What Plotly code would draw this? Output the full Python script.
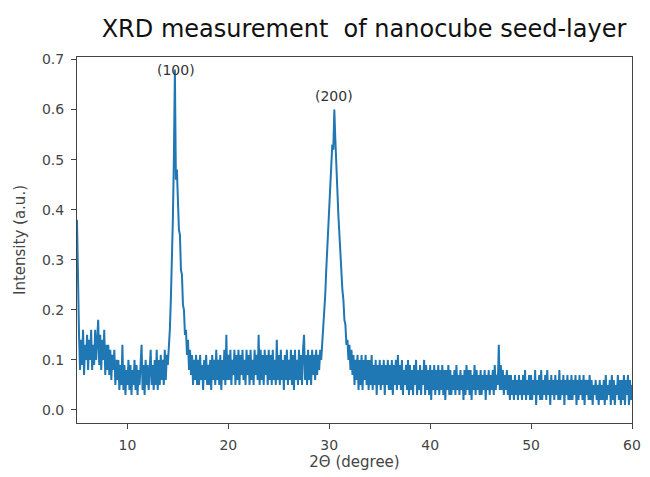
import numpy as np
import plotly.graph_objects as go

# 2-theta grid (degrees), 0.1 deg step from 5 to 60
two_theta = np.round(np.arange(5.0, 60.0001, 0.1), 1)

# Intensity values (a.u.), one row per degree
intensity = [
    0.38, 0.24, 0.15, 0.08, 0.14, 0.09, 0.16, 0.07, 0.13, 0.10,   # 5
    0.15, 0.08, 0.14, 0.10, 0.16, 0.08, 0.13, 0.09, 0.16, 0.10,   # 6
    0.14, 0.18, 0.09, 0.15, 0.08, 0.14, 0.10, 0.16, 0.07, 0.13,   # 7
    0.08, 0.13, 0.07, 0.12, 0.06, 0.11, 0.08, 0.12, 0.05, 0.10,   # 8
    0.06, 0.10, 0.04, 0.09, 0.05, 0.13, 0.04, 0.09, 0.03, 0.08,   # 9
    0.05, 0.10, 0.04, 0.09, 0.03, 0.08, 0.05, 0.10, 0.04, 0.09,   # 10
    0.03, 0.08, 0.05, 0.10, 0.13, 0.04, 0.09, 0.03, 0.10, 0.05,   # 11
    0.09, 0.04, 0.10, 0.12, 0.05, 0.09, 0.04, 0.10, 0.05, 0.12,   # 12
    0.04, 0.10, 0.05, 0.11, 0.06, 0.10, 0.05, 0.12, 0.06, 0.11,   # 13
    0.09, 0.12, 0.16, 0.22, 0.29, 0.38, 0.50, 0.68, 0.46, 0.48,   # 14
    0.42, 0.36, 0.35, 0.28, 0.27, 0.21, 0.20, 0.15, 0.16, 0.11,   # 15
    0.14, 0.08, 0.12, 0.07, 0.11, 0.05, 0.10, 0.06, 0.11, 0.05,   # 16
    0.10, 0.05, 0.11, 0.06, 0.09, 0.04, 0.10, 0.06, 0.11, 0.05,   # 17
    0.09, 0.05, 0.10, 0.04, 0.11, 0.06, 0.10, 0.05, 0.12, 0.06,   # 18
    0.10, 0.05, 0.11, 0.04, 0.10, 0.06, 0.12, 0.05, 0.15, 0.06,   # 19
    0.11, 0.06, 0.12, 0.05, 0.10, 0.07, 0.12, 0.05, 0.11, 0.06,   # 20
    0.12, 0.05, 0.11, 0.07, 0.12, 0.06, 0.10, 0.05, 0.12, 0.07,   # 21
    0.11, 0.05, 0.12, 0.06, 0.10, 0.05, 0.12, 0.07, 0.11, 0.06,   # 22
    0.15, 0.05, 0.12, 0.06, 0.11, 0.05, 0.12, 0.07, 0.11, 0.05,   # 23
    0.12, 0.06, 0.11, 0.05, 0.12, 0.06, 0.10, 0.05, 0.14, 0.06,   # 24
    0.11, 0.05, 0.12, 0.06, 0.10, 0.04, 0.11, 0.06, 0.12, 0.05,   # 25
    0.10, 0.06, 0.12, 0.05, 0.11, 0.04, 0.12, 0.06, 0.10, 0.05,   # 26
    0.12, 0.06, 0.11, 0.05, 0.12, 0.15, 0.06, 0.11, 0.05, 0.12,   # 27
    0.06, 0.11, 0.05, 0.12, 0.07, 0.11, 0.06, 0.12, 0.07, 0.11,   # 28
    0.08, 0.12, 0.10, 0.13, 0.16, 0.19, 0.23, 0.28, 0.32, 0.37,   # 29
    0.40, 0.45, 0.50, 0.53, 0.52, 0.60, 0.54, 0.47, 0.44, 0.39,   # 30
    0.35, 0.32, 0.28, 0.24, 0.22, 0.18, 0.17, 0.13, 0.14, 0.10,   # 31
    0.13, 0.08, 0.12, 0.07, 0.11, 0.05, 0.10, 0.06, 0.11, 0.04,   # 32
    0.10, 0.05, 0.11, 0.04, 0.10, 0.06, 0.11, 0.05, 0.10, 0.04,   # 33
    0.10, 0.05, 0.11, 0.04, 0.09, 0.05, 0.10, 0.03, 0.09, 0.05,   # 34
    0.10, 0.04, 0.09, 0.05, 0.10, 0.03, 0.09, 0.05, 0.10, 0.04,   # 35
    0.09, 0.04, 0.10, 0.03, 0.09, 0.05, 0.10, 0.04, 0.11, 0.05,   # 36
    0.09, 0.04, 0.10, 0.03, 0.08, 0.05, 0.09, 0.04, 0.10, 0.03,   # 37
    0.09, 0.04, 0.08, 0.03, 0.09, 0.05, 0.10, 0.03, 0.08, 0.04,   # 38
    0.09, 0.03, 0.08, 0.05, 0.10, 0.03, 0.09, 0.04, 0.08, 0.03,   # 39
    0.09, 0.02, 0.08, 0.04, 0.09, 0.03, 0.08, 0.04, 0.09, 0.03,   # 40
    0.08, 0.04, 0.09, 0.03, 0.08, 0.02, 0.08, 0.04, 0.09, 0.03,   # 41
    0.08, 0.03, 0.07, 0.04, 0.08, 0.03, 0.09, 0.04, 0.07, 0.03,   # 42
    0.08, 0.04, 0.07, 0.02, 0.08, 0.03, 0.09, 0.04, 0.08, 0.03,   # 43
    0.08, 0.02, 0.07, 0.04, 0.09, 0.03, 0.08, 0.04, 0.07, 0.03,   # 44
    0.08, 0.03, 0.07, 0.04, 0.08, 0.02, 0.07, 0.04, 0.08, 0.03,   # 45
    0.07, 0.04, 0.08, 0.03, 0.09, 0.04, 0.07, 0.05, 0.13, 0.04,   # 46
    0.09, 0.04, 0.08, 0.03, 0.07, 0.04, 0.08, 0.03, 0.07, 0.02,   # 47
    0.07, 0.03, 0.06, 0.02, 0.07, 0.03, 0.06, 0.02, 0.07, 0.03,   # 48
    0.06, 0.02, 0.07, 0.03, 0.08, 0.02, 0.06, 0.03, 0.07, 0.02,   # 49
    0.07, 0.02, 0.06, 0.03, 0.08, 0.01, 0.06, 0.03, 0.07, 0.02,   # 50
    0.08, 0.02, 0.06, 0.03, 0.07, 0.02, 0.08, 0.03, 0.06, 0.01,   # 51
    0.07, 0.03, 0.06, 0.02, 0.07, 0.03, 0.06, 0.02, 0.08, 0.02,   # 52
    0.06, 0.03, 0.07, 0.01, 0.06, 0.03, 0.07, 0.02, 0.06, 0.02,   # 53
    0.07, 0.02, 0.06, 0.03, 0.07, 0.01, 0.06, 0.02, 0.07, 0.03,   # 54
    0.06, 0.02, 0.07, 0.01, 0.06, 0.03, 0.06, 0.02, 0.07, 0.02,   # 55
    0.06, 0.01, 0.05, 0.03, 0.06, 0.02, 0.05, 0.01, 0.06, 0.02,   # 56
    0.05, 0.02, 0.06, 0.01, 0.07, 0.02, 0.05, 0.03, 0.06, 0.01,   # 57
    0.07, 0.02, 0.06, 0.01, 0.05, 0.03, 0.07, 0.02, 0.06, 0.01,   # 58
    0.06, 0.02, 0.07, 0.01, 0.06, 0.03, 0.07, 0.01, 0.06, 0.02,   # 59
    0.05,                                                          # 60
]

peak_labels = ["(100)", "(200)"]
peak_x = [14.8, 30.45]
peak_y = [0.68, 0.628]

x_ticks = [10, 20, 30, 40, 50, 60]
y_ticks = [0.0, 0.1, 0.2, 0.3, 0.4, 0.5, 0.6, 0.7]

fig = go.Figure()
fig.add_trace(go.Scatter(
    x=two_theta, y=intensity, mode="lines",
    line=dict(color="#1f77b4", width=2),
    showlegend=False, hoverinfo="skip",
))

for lab, px, py in zip(peak_labels, peak_x, peak_y):
    fig.add_annotation(x=px, y=py, text=lab, showarrow=False,
                       font=dict(size=14, color="#333"), yanchor="middle")

axis_common = dict(showline=True, mirror=True, linecolor="#444", linewidth=1,
                   ticks="outside", ticklen=5, tickcolor="#444", showgrid=False,
                   zeroline=False, tickfont=dict(size=14, color="#444"),
                   ticklabelstandoff=4)

fig.update_layout(
    width=650, height=477,
    margin=dict(l=77, r=9, t=57, b=54),
    paper_bgcolor="white", plot_bgcolor="white",
    font=dict(family="DejaVu Sans", color="#444"),
    title=dict(text="XRD measurement  of nanocube seed-layer",
               x=0.56, xanchor="center", y=0.941, yanchor="middle",
               yref="container", xref="container",
               font=dict(size=24, color="#111", family="DejaVu Sans")),
    xaxis=dict(range=[5, 60], tickvals=x_ticks,
               title=dict(text="2Θ (degree)", font=dict(size=15), standoff=2),
               **axis_common),
    yaxis=dict(range=[-0.026, 0.705], tickvals=y_ticks, tickformat=".1f",
               title=dict(text="Intensity (a.u.)", font=dict(size=15), standoff=12),
               **axis_common),
)

fig.write_html("out.html")
